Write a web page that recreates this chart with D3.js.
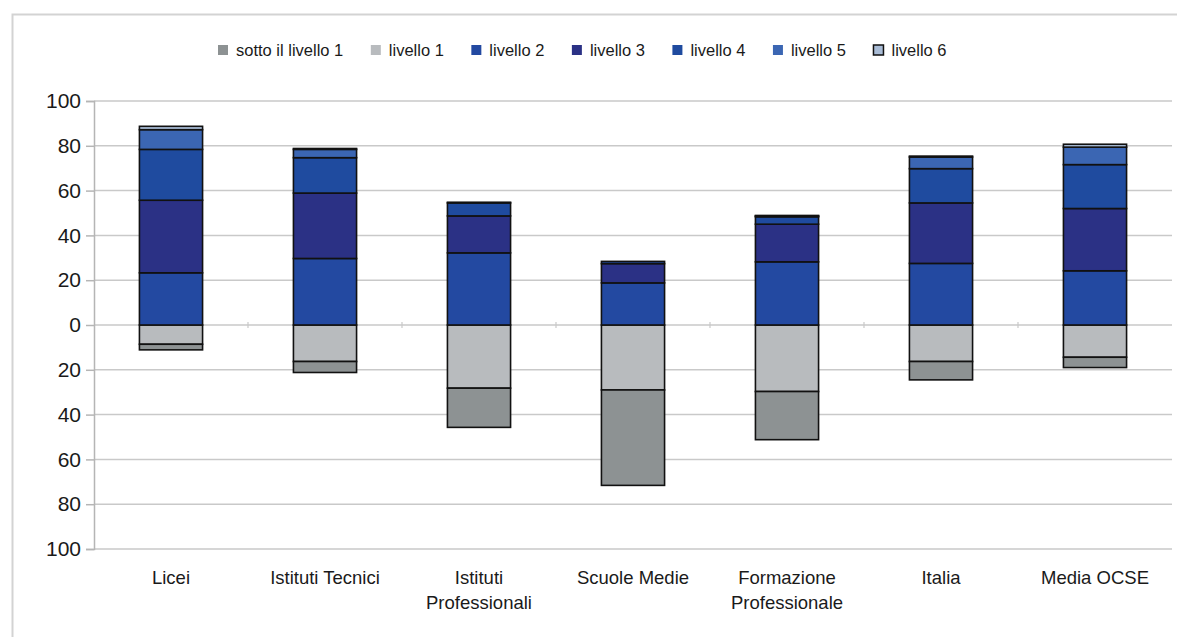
<!DOCTYPE html>
<html>
<head>
<meta charset="utf-8">
<script src="https://cdn.jsdelivr.net/npm/d3@7"></script>
<style>
  html, body { margin: 0; padding: 0; background: #fff; }
  svg { display: block; }
  text { font-family: "Liberation Sans", Arial, Helvetica, sans-serif; fill: #1a1a1a; }
</style>
</head>
<body>
<svg id="chart" width="1177" height="637"></svg>
<script>
// School types (x categories)
const categories = ["Licei", "Istituti Tecnici", "Istituti Professionali", "Scuole Medie",
                    "Formazione Professionale", "Italia", "Media OCSE"];
// Two-line category labels
const categoryLabels = [["Licei"], ["Istituti Tecnici"], ["Istituti", "Professionali"], ["Scuole Medie"],
                        ["Formazione", "Professionale"], ["Italia"], ["Media OCSE"]];

// Share of students (%) at each proficiency level
const sottoLivello1 = [2.5, 4.9, 17.5, 42.6, 21.5, 8.2, 4.6];
const livello1      = [8.6, 16.3, 28.2, 29.0, 29.7, 16.3, 14.4];
const livello2      = [23.3, 29.7, 32.2, 18.8, 28.2, 27.5, 24.2];
const livello3      = [32.4, 29.2, 16.5, 8.6, 16.8, 27.0, 27.8];
const livello4      = [22.7, 15.8, 5.8, 1.0, 3.3, 15.3, 19.6];
const livello5      = [8.8, 3.7, 0.3, 0.0, 0.4, 5.2, 7.8];
const livello6      = [1.5, 0.4, 0.0, 0.0, 0.2, 0.4, 1.3];

const seriesNames = ["sotto il livello 1", "livello 1", "livello 2", "livello 3", "livello 4", "livello 5", "livello 6"];
const seriesColors = ["#8d9293", "#b8bbbe", "#2349a1", "#2b3185", "#1f4b9f", "#3b66b3", "#a9bcd6"];

// y tick values; labels shown without sign
const yTicks = [-100, -80, -60, -40, -20, 0, 20, 40, 60, 80, 100];

const svg = d3.select("#chart");

// outer frame
svg.append("path")
  .attr("d", "M12.5,637 V14.5 H1177")
  .attr("fill", "none").attr("stroke", "#d3d3d3").attr("stroke-width", 2);

const plot = { left: 94, right: 1172, top: 101, bottom: 549 };

const y = d3.scaleLinear().domain([-100, 100]).range([plot.bottom, plot.top]);
const x = d3.scaleBand().domain(categories).range([plot.left, plot.right]).padding(0);
const barW = x.bandwidth() * 0.41;

// gridlines
svg.append("g").selectAll("line").data(yTicks).join("line")
  .attr("x1", plot.left).attr("x2", plot.right)
  .attr("y1", d => y(d)).attr("y2", d => y(d))
  .attr("stroke", "#c9c9c9").attr("stroke-width", 1.5);

// y axis
const yAxis = d3.axisLeft(y).tickValues(yTicks).tickSize(8).tickPadding(5)
  .tickFormat(d => Math.abs(d));
const gy = svg.append("g").attr("transform", `translate(${plot.left},0)`).call(yAxis);
gy.select(".domain").attr("stroke", "#b5b5b5").attr("stroke-width", 1.5);
gy.selectAll(".tick line").attr("stroke", "#b5b5b5").attr("stroke-width", 1.5);
gy.selectAll(".tick text").attr("font-size", 21).attr("fill", "#1a1a1a")
  .attr("font-family", "Liberation Sans, Arial, sans-serif");

// small category separator ticks on the zero line
svg.append("g").selectAll("line").data(categories.slice(1)).join("line")
  .attr("x1", d => x(d)).attr("x2", d => x(d))
  .attr("y1", y(0) - 3).attr("y2", y(0) + 3)
  .attr("stroke", "#c9c9c9").attr("stroke-width", 1.2);

// stacked segments: below-zero (level 1 then below level 1) and above-zero (levels 2..6)
const negSeries = [livello1, sottoLivello1];
const negIdx = [1, 0];
const posSeries = [livello2, livello3, livello4, livello5, livello6];
const posIdx = [2, 3, 4, 5, 6];

const segs = [];
categories.forEach((c, i) => {
  let acc = 0;
  negSeries.forEach((s, k) => {
    segs.push({ cat: c, y0: -acc, y1: -(acc + s[i]), color: seriesColors[negIdx[k]] });
    acc += s[i];
  });
  acc = 0;
  posSeries.forEach((s, k) => {
    segs.push({ cat: c, y0: acc, y1: acc + s[i], color: seriesColors[posIdx[k]] });
    acc += s[i];
  });
});

svg.append("g").selectAll("rect").data(segs.filter(d => d.y0 !== d.y1)).join("rect")
  .attr("x", d => x(d.cat) + (x.bandwidth() - barW) / 2)
  .attr("width", barW)
  .attr("y", d => y(Math.max(d.y0, d.y1)))
  .attr("height", d => Math.abs(y(d.y0) - y(d.y1)))
  .attr("fill", d => d.color)
  .attr("stroke", "#111").attr("stroke-width", 1.6);

// category labels
const lab = svg.append("g").selectAll("text").data(categories).join("text")
  .attr("x", d => x(d) + x.bandwidth() / 2)
  .attr("y", 584)
  .attr("text-anchor", "middle")
  .attr("font-size", 18.5);
lab.each(function(d, i) {
  const t = d3.select(this);
  categoryLabels[i].forEach((line, j) => {
    t.append("tspan").attr("x", x(d) + x.bandwidth() / 2).attr("dy", j === 0 ? 0 : 25).text(line);
  });
});

// legend
const legend = svg.append("g").attr("transform", "translate(218,50)");
let lx = 0;
seriesNames.forEach((name, i) => {
  const g = legend.append("g").attr("transform", `translate(${lx},0)`);
  g.append("rect").attr("x", 0).attr("y", -5).attr("width", 10).attr("height", 10)
    .attr("fill", seriesColors[i])
    .attr("stroke", i === 6 ? "#111" : "none").attr("stroke-width", 1.5);
  const t = g.append("text").attr("x", 18).attr("y", 6).attr("font-size", 16.5).text(name);
  lx += 18 + t.node().getComputedTextLength() + 27.5;
});
</script>
</body>
</html>
